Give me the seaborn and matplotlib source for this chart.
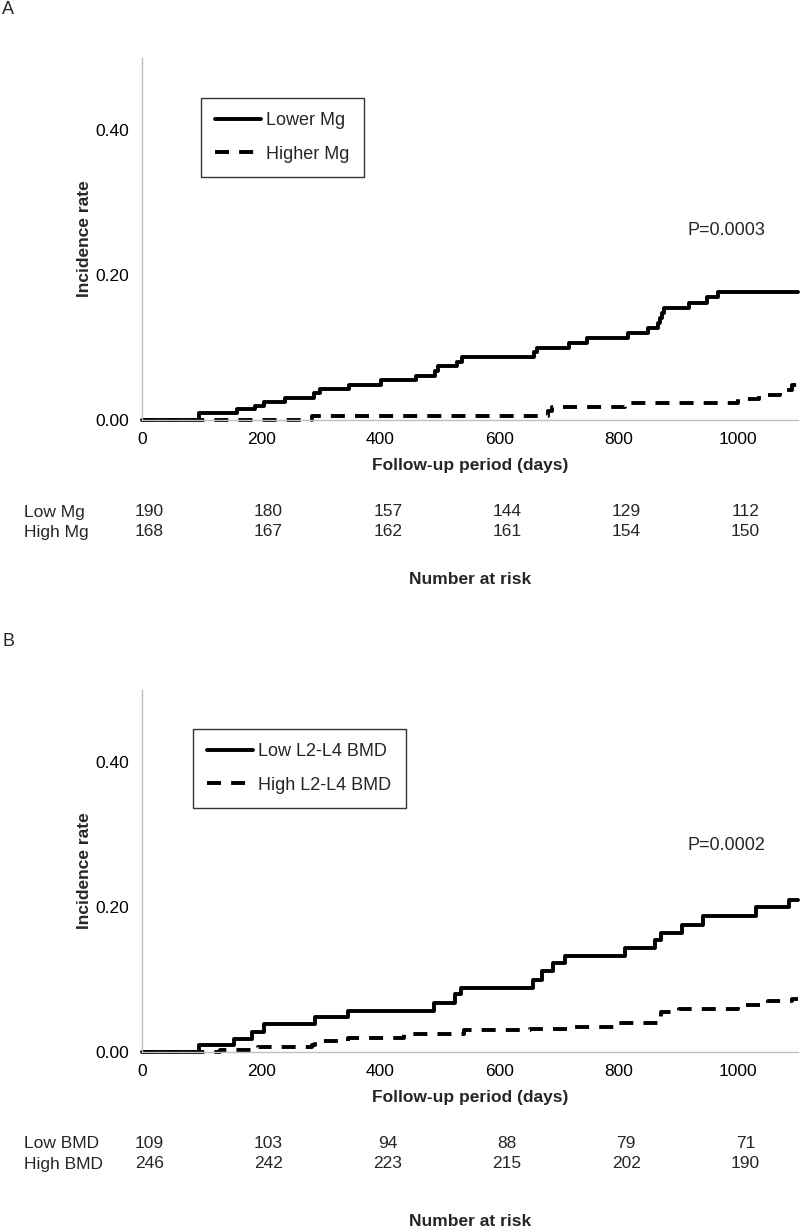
import numpy as np
import pandas as pd
import matplotlib
matplotlib.use("Agg")
import matplotlib.pyplot as plt
import seaborn as sns
from matplotlib.lines import Line2D

sns.set_theme(style="white")
plt.rcParams['font.family'] = ['Liberation Sans', 'DejaVu Sans']

# ---------------- Panel A data ----------------
lowmg_days = [0, 95, 160, 190, 205, 240, 288, 299, 347, 400, 459, 492, 497, 529, 537,
              657, 663, 716, 747, 815, 848, 866, 869, 872, 876, 918, 948, 966, 1100]
lowmg_rate = [0, 0.010, 0.015, 0.020, 0.025, 0.031, 0.037, 0.043, 0.049, 0.055, 0.061, 0.068, 0.074, 0.080, 0.087,
              0.094, 0.100, 0.107, 0.113, 0.120, 0.127, 0.134, 0.141, 0.148, 0.155, 0.162, 0.170, 0.177, 0.177]
highmg_days = [0, 285, 680, 688, 810, 1000, 1035, 1070, 1090, 1098, 1100]
highmg_rate = [0, 0.006, 0.012, 0.018, 0.024, 0.029, 0.035, 0.042, 0.048, 0.053, 0.053]

# ---------------- Panel B data ----------------
lowbmd_days = [0, 95, 155, 185, 205, 290, 345, 490, 525, 535, 655, 670, 690, 710, 810, 860, 870,
               905, 940, 1030, 1085, 1100]
lowbmd_rate = [0, 0.010, 0.018, 0.028, 0.038, 0.048, 0.057, 0.067, 0.080, 0.088, 0.100, 0.112, 0.123,
               0.133, 0.143, 0.155, 0.165, 0.176, 0.188, 0.200, 0.210, 0.210]
highbmd_days = [0, 130, 195, 285, 290, 345, 440, 540, 650, 720, 800, 865, 870, 900, 1000, 1050, 1090, 1100]
highbmd_rate = [0, 0.003, 0.007, 0.010, 0.015, 0.020, 0.025, 0.030, 0.032, 0.035, 0.040, 0.045, 0.055,
                0.060, 0.065, 0.070, 0.073, 0.073]

risk_times = [0, 200, 400, 600, 800, 1000]
risk_low_mg = [190, 180, 157, 144, 129, 112]
risk_high_mg = [168, 167, 162, 161, 154, 150]
risk_low_bmd = [109, 103, 94, 88, 79, 71]
risk_high_bmd = [246, 242, 223, 215, 202, 190]

W, H = 800, 1231
fig = plt.figure(figsize=(W / 100, H / 100), dpi=100)

GREY = '#bfbfbf'
LW = 2.8
DASH = (3.6, 2.6)


def make_panel(top_px, letter, names, days_a, rate_a, days_b, rate_b, pval,
               row_names, risk_a, risk_b, leg_box, nrisk_title_px):
    left, right, bottom = 142, 798, top_px + 362
    ax = fig.add_axes([left / W, 1 - bottom / H, (right - left) / W, (bottom - top_px) / H])
    df = pd.concat([
        pd.DataFrame({'day': days_a, 'rate': rate_a, 'group': names[0]}),
        pd.DataFrame({'day': days_b, 'rate': rate_b, 'group': names[1]}),
    ])
    sns.lineplot(data=df, x='day', y='rate', hue='group', style='group',
                 palette={names[0]: 'black', names[1]: 'black'},
                 dashes={names[0]: '', names[1]: DASH},
                 estimator=None, sort=False, drawstyle='steps-post',
                 linewidth=LW, ax=ax, legend=False)
    for ln in ax.get_lines():
        ln.set_clip_on(False)
    ax.set_xlim(0, 1100)
    ax.set_ylim(0, 0.5)
    ax.set_xticks(risk_times)
    ax.set_yticks([0, 0.2, 0.4])
    ax.set_yticklabels(['0.00', '0.20', '0.40'])
    for s in ['top', 'right']:
        ax.spines[s].set_visible(False)
    for s in ['left', 'bottom']:
        ax.spines[s].set_color(GREY)
        ax.spines[s].set_linewidth(1.0)
    ax.tick_params(axis='both', colors=GREY, length=5, width=1.0, direction='out',
                   labelcolor='black', labelsize=12.5)
    ax.tick_params(axis='y', pad=4)
    ax.set_xlabel('Follow-up period (days)', fontsize=12.5, fontweight='bold', labelpad=8)
    ax.set_ylabel('Incidence rate', fontsize=12.5, fontweight='bold', labelpad=3)

    handles = [Line2D([], [], color='black', lw=LW),
               Line2D([], [], color='black', lw=LW, dashes=DASH)]
    lx0, ly0 = leg_box
    leg = ax.legend(handles, names, loc='upper left',
                    bbox_to_anchor=((lx0 - left) / (right - left), 1 - (ly0 - top_px) / (bottom - top_px)),
                    frameon=True, fancybox=False, edgecolor='black', fontsize=13,
                    handlelength=2.5, handletextpad=0.3, labelspacing=0.9,
                    borderpad=0.8, borderaxespad=0)
    leg.get_frame().set_linewidth(1.0)

    ax.text(pval[0], pval[1], pval[2], fontsize=13, ha='left', va='center')

    fig.text(2 / W, 1 - (top_px - 48) / H, letter, fontsize=13, ha='left', va='center')

    row_y = [bottom + 92, bottom + 112]
    for name, vals, y in zip(row_names, [risk_a, risk_b], row_y):
        fig.text(24 / W, 1 - y / H, name, fontsize=12.5, ha='left', va='center')
        for t, v in zip(risk_times, vals):
            xp = left + (t + 12) / 1100 * (right - left)
            fig.text(xp / W, 1 - y / H, str(v), fontsize=12.5, ha='center', va='center')
    fig.text(470 / W, 1 - nrisk_title_px / H, 'Number at risk', fontsize=12.5,
             fontweight='bold', ha='center', va='center')
    return ax


make_panel(58, 'A', ['Lower Mg', 'Higher Mg'], lowmg_days, lowmg_rate, highmg_days, highmg_rate,
           (915, 0.262, 'P=0.0003'), ['Low Mg', 'High Mg'], risk_low_mg, risk_high_mg,
           (201, 98), 580)
make_panel(690, 'B', ['Low L2-L4 BMD', 'High L2-L4 BMD'], lowbmd_days, lowbmd_rate, highbmd_days,
           highbmd_rate, (915, 0.285, 'P=0.0002'), ['Low BMD', 'High BMD'], risk_low_bmd,
           risk_high_bmd, (193, 729), 1222)

fig.savefig('out.png', dpi=100)
